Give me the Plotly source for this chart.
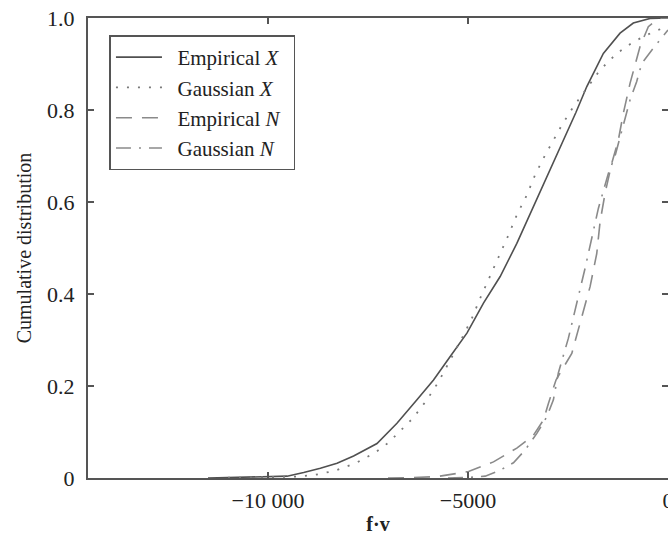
import plotly.graph_objects as go

# Empirical X (solid)
emp_x_v = [-11500, -11000, -10000, -9523, -9108, -8691, -8274, -7860, -7275, -6776, -6276,
           -5862, -5445, -5027, -4613, -4196, -3779, -3364, -3030, -2697, -2530, -2300,
           -2030, -1616, -1199, -867, -450, -200, 0]
emp_x_p = [0.0, 0.001, 0.003, 0.004, 0.012, 0.021, 0.032, 0.048, 0.075, 0.119, 0.170,
           0.213, 0.264, 0.315, 0.380, 0.438, 0.510, 0.590, 0.655, 0.720, 0.749, 0.795,
           0.851, 0.923, 0.967, 0.989, 0.999, 1.0, 1.0]

# Gaussian X (dotted)
gau_x_v = [-11000, -10000, -9273, -8816, -8317, -7817, -7343, -6986, -6568, -6376, -6026,
           -5737, -5152, -4903, -4695, -4445, -4221, -3989, -3779, -3529, -3322, -3072,
           -2780, -2655, -2365, -2030, -1698, -1281, -867, -367, -117, 0]
gau_x_p = [0.0005, 0.0015, 0.003, 0.007, 0.016, 0.032, 0.054, 0.077, 0.112, 0.130, 0.170,
           0.209, 0.304, 0.347, 0.391, 0.438, 0.483, 0.528, 0.572, 0.615, 0.659, 0.702,
           0.746, 0.767, 0.807, 0.847, 0.887, 0.923, 0.948, 0.970, 0.978, 0.980]

# Empirical N (dashed)
emp_n_v = [-7000, -6500, -5777, -4987, -4363, -3779, -3364, -3114, -2990, -2800, -2405, -2198,
           -1948, -1781, -1698, -1573, -1406, -1241, -1116, -949, -824, -699, -492, -282, -150, 0]
emp_n_p = [0.0, 0.0005, 0.003, 0.014, 0.035, 0.065, 0.093, 0.126, 0.162, 0.213, 0.271, 0.336,
           0.416, 0.488, 0.557, 0.619, 0.684, 0.735, 0.793, 0.858, 0.901, 0.938, 0.981, 0.996, 1.0, 1.0]

# Gaussian N (dash-dot)
gau_n_v = [-5500, -5000, -4570, -4196, -3864, -3571, -3279, -3030, -2865, -2740, -2490, -2280,
           -2073, -1741, -1491, -1324, -949, -782, -657, -407, -200, 0]
gau_n_p = [0.0, 0.001, 0.004, 0.017, 0.033, 0.061, 0.097, 0.133, 0.170, 0.229, 0.304, 0.378,
           0.456, 0.586, 0.662, 0.700, 0.822, 0.862, 0.901, 0.930, 0.952, 0.974]

x_tick_vals = [-10000, -5000, 0]
x_tick_text = ["\u221210 000", "\u22125000", "0"]
y_tick_vals = [0, 0.2, 0.4, 0.6, 0.8, 1.0]
y_tick_text = ["0", "0.2", "0.4", "0.6", "0.8", "1.0"]

FONT = "Liberation Serif, Times New Roman, serif"
AX = "#555555"
TXT = "#222222"
SP = "\u2002"

fig = go.Figure()
fig.add_trace(go.Scatter(x=emp_x_v, y=emp_x_p, mode="lines", name=SP + "Empirical <i>X</i>" + SP,
                         legendgroup="a", line=dict(color="#505050", width=1.6)))
fig.add_trace(go.Scatter(x=gau_x_v, y=gau_x_p, mode="lines", name=SP + "Gaussian <i>X</i>",
                         legendgroup="b", line=dict(color="#7a7a7a", width=1.8, dash="2px,9px")))
fig.add_trace(go.Scatter(x=emp_n_v, y=emp_n_p, mode="lines", name=SP + "Empirical <i>N</i>",
                         legendgroup="c", line=dict(color="#8a8a8a", width=1.6, dash="16px,10px")))
fig.add_trace(go.Scatter(x=gau_n_v, y=gau_n_p, mode="lines", name=SP + "Gaussian <i>N</i>",
                         legendgroup="d", line=dict(color="#8a8a8a", width=1.6, dash="15px,8px,2px,8px")))

fig.update_layout(
    width=668, height=535,
    template="none",
    paper_bgcolor="white", plot_bgcolor="white",
    margin=dict(l=88, r=0, t=18, b=57),
    font=dict(family=FONT, size=21, color=TXT),
    showlegend=True,
    legend=dict(x=0.037, y=0.962, xanchor="left", yanchor="top",
                bgcolor="white", bordercolor=AX, borderwidth=1.5,
                font=dict(family=FONT, size=21, color=TXT),
                itemwidth=46, tracegroupgap=0, traceorder="normal"),
)
fig.update_xaxes(range=[-14500, 0], tickvals=x_tick_vals, ticktext=x_tick_text,
                 ticks="inside", ticklen=6, tickwidth=1.5, tickcolor=AX,
                 showline=True, linecolor=AX, linewidth=2, mirror="ticks",
                 showgrid=False, zeroline=False, automargin=False,
                 ticklabelstandoff=2, ticklabeloverflow="allow",
                 tickfont=dict(family=FONT, size=22, color=TXT),
                 title=dict(text="<b>f·v</b>", font=dict(family=FONT, size=20), standoff=6))
fig.update_yaxes(range=[0, 1], tickvals=y_tick_vals, ticktext=y_tick_text,
                 ticks="inside", ticklen=6, tickwidth=1.5, tickcolor=AX,
                 showline=True, linecolor=AX, linewidth=2, mirror="ticks",
                 showgrid=False, zeroline=False, automargin=False,
                 ticklabelstandoff=7, ticklabeloverflow="allow",
                 tickfont=dict(family=FONT, size=22, color=TXT),
                 title=dict(text="Cumulative distribution", font=dict(family=FONT, size=20), standoff=10))

fig.write_html("out.html", config={"displayModeBar": False},
               post_script="document.body.style.margin='0';document.body.style.overflow='hidden';")
